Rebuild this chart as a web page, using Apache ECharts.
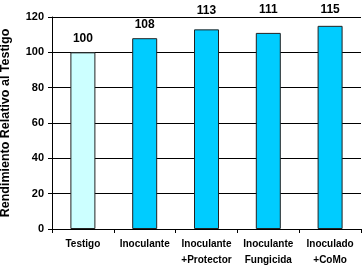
<!DOCTYPE html>
<html><head><meta charset="utf-8">
<script src="https://cdn.jsdelivr.net/npm/echarts@6/dist/echarts.min.js"></script>
<style>html,body{margin:0;padding:0;background:#fff}#c{width:363px;height:267px}</style>
</head><body><div id="c"></div>
<script>
var categories = ['Testigo', 'Inoculante', 'Inoculante\n+Protector', 'Inoculante\nFungicida', 'Inoculado\n+CoMo'];
var values = [100, 108, 113, 111, 115];
var barColors = ['#CCFFFF', '#00CCFF', '#00CCFF', '#00CCFF', '#00CCFF'];
var yTicks = {min: 0, max: 120, interval: 20};
var yName = 'Rendimiento Relativo al Testigo';

var labelDist = [8, 8, 13, 17, 10];
var chart = echarts.init(document.getElementById('c'));
chart.setOption({
  animation: false,
  grid: {left: 52, right: 2, top: 17, bottom: 38, outerBoundsMode: 'none', containLabel: false},
  xAxis: {
    type: 'category', data: categories,
    axisLine: {lineStyle: {color: '#000', width: 1}},
    axisTick: {show: true, alignWithLabel: false, length: 4, lineStyle: {color: '#000'}},
    axisLabel: {color: '#000', fontFamily: 'Liberation Sans, Arial', fontWeight: 'bold', fontSize: 10, lineHeight: 16, margin: 7, interval: 0}
  },
  yAxis: {
    type: 'value', min: yTicks.min, max: yTicks.max, interval: yTicks.interval,
    name: yName, nameLocation: 'middle', nameRotate: 90, nameGap: 40,
    nameTextStyle: {color: '#000', fontFamily: 'Liberation Sans, Arial', fontWeight: 'bold', fontSize: 12.5},
    axisLine: {show: true, lineStyle: {color: '#000'}},
    axisTick: {show: true, length: 4, lineStyle: {color: '#000'}},
    axisLabel: {color: '#000', fontFamily: 'Liberation Sans, Arial', fontWeight: 'bold', fontSize: 11, margin: 8},
    splitLine: {show: true, lineStyle: {color: '#000', width: 1}}
  },
  series: [{
    type: 'bar', barWidth: 25,
    data: values.map(function (v, i) {
      return {value: v, itemStyle: {color: barColors[i]}, label: {distance: labelDist[i]}};
    }),
    itemStyle: {borderColor: '#222', borderWidth: 1},
    label: {show: true, position: 'top', color: '#000', fontFamily: 'Liberation Sans, Arial', fontWeight: 'bold', fontSize: 12}
  }]
});
</script></body></html>
